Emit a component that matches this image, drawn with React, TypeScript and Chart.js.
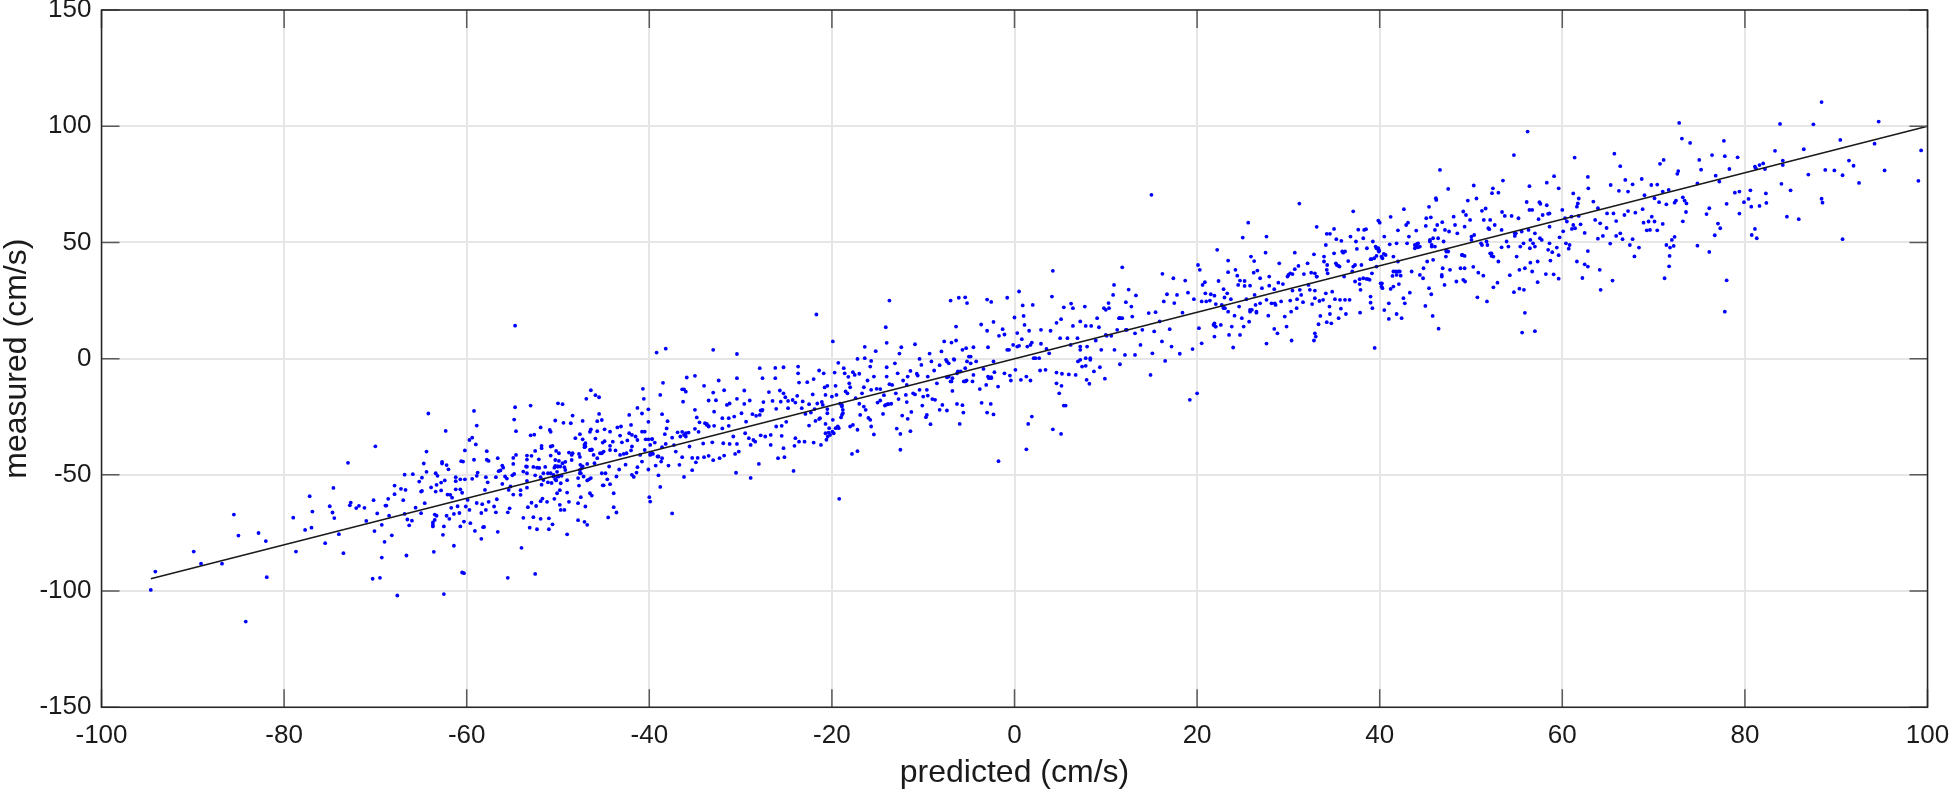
import React, { useEffect, useRef } from "react";
import { Chart, registerables } from "chart.js";

Chart.register(...registerables);

const xTicks = [-100, -80, -60, -40, -20, 0, 20, 40, 60, 80, 100];
const yTicks = [-150, -100, -50, 0, 50, 100, 150];
const fitX = [-94.6, 100];
const fitY = [-94.7, 100];

const lowPairs = [
[-94.6,-99.5],[-94.1,-91.6],[-89.9,-83],[-89.1,-88.2],[-86.8,-88.2],[-85.5,-67.1],[-85,-76.1],[-82.8,-75],[-82,-78.5],[-81.9,-94],[-84.2,-113.1],[-79,-68.4],[-78.7,-83],[-77.7,-73.7],[-77.2,-59.2],[-77,-72.7],[-76.9,-65.8],[-75.5,-79.4],[-75,-63.5],[-74.7,-66.2],[-74.6,-55.6],[-74.5,-68.6],[-74,-75.5],[-73.5,-83.7],[-73,-44.8],[-72.8,-63.1],[-72.7,-61.9],[-72.1,-64.3],[-71.8,-63.3],[-71.2,-64.2],[-71,-69.8],[-70.3,-94.7],[-69.5,-94.3],[-70.2,-60.9],[-70.1,-74.2],[-70,-37.7],[-69.8,-66.6],[-69.3,-85.6],[-69.3,-71.5],[-69,-78.8],[-68.9,-63.2],[-68.8,-63.2],[-68.6,-60.3],[-68.5,-67.6],[-68.2,-76],[-67.9,-58.3],[-67.9,-54.6],[-67.6,-101.9],[-67.2,-56],[-66.95,-60.9],[-66.8,-49.9],[-66.8,-66.8],[-66.7,-56.5],[-66.6,-84.7],[-66.5,-69.2],[-66.3,-71.7],[-66,-69.7],[-65.9,-49.7],[-65.6,-64.1],[-65.2,-52.9],[-65,-66.5],[-65,-57.2],[-64.9,-56.9],[-64.9,-51.2],[-64.7,-45.1],[-64.6,-62.2],[-64.4,-40],[-64.4,-48.7],[-64.2,-23.6],[-63.9,-55.4],[-63.7,-70.5],[-63.7,-71.5],[-63.7,-72.2],[-63.6,-83.1],[-63.5,-67.1],[-63.5,-69.4],[-63.4,-49.3],[-63.4,-57.2],[-63.3,-67.6],[-63.3,-54.3],[-63.2,-50.4],[-62.8,-53.3],[-62.8,-56.7],[-62.7,-44.4],[-62.7,-45.1],[-62.6,-75.8],[-62.5,-101.3],[-62.5,-72.2],[-62.4,-52.4],[-62.3,-31.1],[-62.2,-67.6],[-62.2,-45.8],[-62.1,-58.5],[-62,-47.6],[-61.9,-68.9],[-61.8,-58.6],[-61.7,-64.2],[-61.6,-59.8],[-61.4,-80.5],[-61.4,-66.8],[-61.2,-51],[-61.2,-52.7],[-61.2,-56.2],[-61,-63.5],[-60.8,-66.4],[-60.7,-72.2],[-60.7,-56.2],[-60.7,-51.9],[-60.6,-44.1],[-60.5,-57.7],[-60.4,-44.3],[-60.3,-70.1],[-60.3,-92.3],[-60.2,-39.5],[-60.2,-51.9],[-60.1,-63.6],[-59.9,-60.8],[-59.7,-35],[-59.7,-65.1],[-59.6,-70.8],[-59.4,-34],[-59.4,-51.7],[-59.2,-43.5],[-59.2,-22.5],[-59.1,-74.1],[-59,-36.9],[-58.9,-62.1],[-58.9,-28.8],[-58.9,-50.4],[-58.8,-49],[-58.4,-66.4],[-58.3,-62.6],[-58.2,-72.5],[-58.1,-72.4],[-58,-56.5],[-57.9,-65.1],[-57.9,-51],[-57.8,-43.5],[-57.8,-39.8],[-57.6,-44],[-57.6,-61.6],[-57.7,-53.2],[-57,-63.6],[-56.8,-51],[-56.8,-66.1],[-56.7,-60.5],[-56.6,-42.8],[-56.5,-48.4],
[-55.5,-94.3],[-52.5,-92.6],[-60.5,-92],[-54,-81.4],[-50.6,-71.3],[-47.1,-70.2],[-56.6,-74.5],[-58.4,-77.5],[-49,-75.6],[-44.5,-68.3],
];

const lowerMidPairs = [
[-56.1,-46],[-56,-46.9],[-56.3,-48.1],[-55.8,-50.7],[-55.6,-51.6],[-56.1,-53.9],[-55.2,-55],[-55.4,-56.5],[-54.9,-58.5],[-55.3,-64.4],[-55.5,-66.1],[-54.7,14.2],[-54.7,-20.9],[-54.8,-26.2],[-54.6,-31.2],[-54.6,-41.4],[-54.9,-42.7],[-54.9,-45.3],[-55,-50.2],[-54.8,-49.6],[-54.1,-56.6],[-54.1,-58.6],[-53.8,-48.6],[-53.5,-46.4],[-53.4,-46.5],[-53.4,-49.3],[-53.4,-52.6],[-53.4,-55.5],[-53.4,-41.7],[-53.4,-43.4],[-53.3,-63.9],[-53.8,-68.5],[-53.1,-72.7],[-53,-20.2],[-53,-33],[-52.9,-41.8],[-52.9,-62],[-52.7,-46.6],[-52.6,-32.7],[-52.7,-68.2],[-52.5,-39.7],[-52.5,-50.2],[-52.3,-46.9],[-52.4,-63.4],[-52.3,-73.4],[-52.05,-47],[-52.1,-43.3],[-51.9,-29.6],[-51.9,-51],[-51.8,-38.5],[-51.8,-37.5],[-51.8,-54.2],[-51.9,-61.3],[-51.9,-68.9],[-51.6,-49.3],[-51.4,-46.6],[-51.6,-52.2],[-51.7,-60.2],[-51.2,-61.6],[-51.1,-53.2],[-51.1,-49.3],[-51,-68.7],[-51,-73.4],[-50.9,-30.7],[-50.8,-31.5],[-50.8,-37.8],[-50.6,-37.5],[-50.8,-41.7],[-50.8,-49.3],[-50.7,-53.5],[-50.5,-50],[-50.4,-46.9],[-50.3,-46.1],[-50.3,-43.6],[-50.3,-26.6],[-50.2,-39.7],[-50.4,-60.3],[-50.1,-50.7],[-50.1,-48.7],[-50,-19.2],[-50,-46.4],[-50.2,-52.4],[-49.9,-44],[-49.9,-40.7],[-50.1,-57.9],[-49.8,-56.6],[-49.7,-53.6],[-49.8,-62.9],[-49.7,-65.1],[-49.5,-19.6],[-49.6,-50.4],[-49.5,-45],[-49.4,-27.6],[-49.3,-65.1],[-49.3,-46.7],[-49.2,-47.9],[-49.2,-44.4],[-49,-57.6],[-49,-52.3],[-48.8,-40.4],[-48.8,-61.6],[-48.6,-27.8],[-48.4,-24.5],[-48.5,-41.4],[-48.5,-43.6],[-48.4,-40.7],[-48.1,-34.2],[-47.8,-51.4],[-47.8,-62.2],[-47.8,-69.5],[-47.7,-41],[-47.6,-42.3],[-47.6,-32.5],[-47.6,-47.9],[-47.5,-59.6],[-47.5,-49.3],[-47.7,-54.6],[-47.3,-26.8],[-47.3,-46.4],[-47.3,-34.7],[-47.1,-37.1],[-47,-37.8],[-46.9,-17.3],[-47,-63.6],[-46.8,-71.5],[-46.8,-52.4],[-46.8,-45.3],[-46.6,-51.9],[-46.5,-31.5],[-46.4,-30.4],[-46.4,-13.6],[-46.5,-39.3],[-46.3,-39],[-46.4,-51.4],[-46.5,-57.9],[-46.3,-58.9],[-45.9,-15.7],[-45.9,-34.4],[-46.1,-41.4],[-46,-45],[-45.7,-42.8],[-45.7,-26.9],[-45.7,-31.2],[-45.5,-23.8],[-45.5,-16.6],[-45.2,-26.4],[-45.4,-40.7],[-45.2,-49.3],[-45.1,-54.5],[-45,-54.5],[-45.1,-36.1],[-44.9,-30.4],[-44.9,-35.5],[-44.8,-49.3],[-44.6,-51.9],[-44.4,-46.4],[-44.3,-31.4],[-44.3,-54],[-44.3,-39.3],[-44.3,-37.5],[-44,-35.7],[-43.9,-57.9],[-43.9,-63.9],[-43.6,-66.2],[-43.7,-39.5],[-43.6,-50.7],[-43.5,-29.6],[-43.3,-47.7],[-43.2,-33.1],[-43.1,-29.2],[-43,-36],[-43.2,-41.4],[-42.8,-41],[-42.6,-45.6],[-42.5,-40.7],[-42.4,-35.2],[-42.2,-24.2],[-42.2,-32.1],[-42,-28.5],[-42,-39.5],[-41.9,-32.8],[-41.9,-37.8],[-41.9,-50],[-41.7,-50.9],[-41.5,-33.5],[-41.3,-46.7],[-41.4,-49],[-41.3,-21.2],[-41.3,-35],[-41,-41.4],[-40.8,-31.4],[-40.8,-23.6],[-40.8,-44.3],[-40.7,-13],[-40.6,-17.3],[-40.5,-31.4],[-40.5,-39.3],[-40.4,-34.7],[-40.1,-21.8],[-40.1,-27.2],[-40,-59.6],[-39.9,-61.5],[-40.1,-47.7],[-39.9,-41.4],[-39.7,-34.5],[-39.9,-37.1],[-39.4,-36.1],[-39.6,-41],[-39.3,-46],[-39.2,2.6],[-39,-50.2],[-38.8,-55.2],[-39.1,-42.1],[-38.8,-15.6],[-38.6,-38.1],[-38.6,-23.9],[-38.5,-10.4],[-38.7,-44.3],[-38.3,-32.5],[-38.2,4.3],[-38.2,-36.7],[-38.1,-30],[-38,-26.9],[-37.9,-46],[-37.5,-66.6],[-37.5,-34],[-37.3,-37.2],[-37.1,-40],[-36.9,-31.7],[-36.7,-45.7],[-36.6,-33.5],[-36.4,-31.5],[-36.4,-13.2],[-36.3,-18.5],[-36.2,-13.2],[-36,-14.2],[-36.4,-42.4],[-36.2,-50.9],[-35.9,-8.1],[-36,-32.1],[-36,-33.5],[-35.7,-31.8],[-35.6,-37.8],[-35.3,-42.7],[-35.3,-48],[-35,-7.4],[-35,-22],[-34.8,-25.3],[-35,-30.2],[-34.7,-42.7],[-34.9,-44.6],[-34.6,-31.5],[-34.5,-27.4],[-34.1,-36.5],[-34,-11.7],[-34,-42.4],[-33.9,-27.8],[-33.7,-28.1],[-33.5,-18],[-33.5,-29.2],[-33.5,-41.8],[-33.1,-36],[-33,-14.6],[-33,3.8],[-33,-43.7],[-32.9,-28.9],[-32.9,-22.8],[-32.7,-17.9],[-32.4,-9.4],[-32.3,-42.8],[-32,-30],[-32,-25.6],[-31.9,-36.4],[-31.8,-13.6],[-31.8,-41.7],[-31.5,-19.9],[-31.3,-25.6],[-31.3,-28.9],[-31.2,-36.7],[-31.2,-19.3],[-30.8,-33.5],[-30.7,-24.9],[-30.5,-49.1],[-30.4,2],[-30.4,-8.4],[-30.4,-17.3],[-30.6,-41],[-30.4,-36.7],[-30.2,-40],[-29.9,-23.5],[-29.6,-13.7],[-29.6,-19.5],[-29.5,-32.1],[-29.4,-27.1],[-29.1,-34.2],[-29,-18],[-28.9,-51.3],[-28.9,-37.1],[-28.7,-23.9],[-28.6,-35],[-28.4,-35.7],[-28.3,-24.6],[-28,-45.3],[-27.9,-4.1],[-27.9,-24.2],[-27.8,-33],[-27.6,-8.4],[-27.6,-22],[-27.5,-18.7],[-27.3,-33.5],[-26.9,-14.4],[-26.7,-32.8],[-26.7,-37.1],[-26.5,-18.2],[-26.2,-4],[-26.2,-8.4],[-26.1,-21.6],[-26.1,-29.2],[-25.9,-42.8],[-25.6,-18.5],[-25.7,-13.7],[-25.5,-33.2],[-25.5,-28.9],[-25.3,-14.9],[-25.3,-3.7],[-25.3,-38.5],[-25.2,-42.4],[-25.1,-16.6],[-25,-27.2],[-24.8,-21.3],[-24.8,-18.2],[-24.2,-48.3],[-24.3,-17.8],[-24.1,-37.5],[-24,-34.2],[-24,-18.9],[-23.7,-3.4],[-23.7,-6.3],[-23.6,-10.3],[-23.8,-16],[-23.6,-35.7],
[-50.05,-46.4],[-49.75,-46.4],[-50.5,-50.7],[-50.3,-51.9],[-49.95,-50.7],[-47.55,-45.7],[-47.4,-47.1],[-47.6,-49.3],[-47.2,-50.7],[-46.45,-39.3],[-46.3,-39.3],[-45.2,-40.7],[-45,-40],[-47,-36.4],[-47.1,-38.1],[-40.1,-34.7],[-39.7,-34.7],[-39.7,-40.7],[-39.9,-41],[-39,-42.1],[-38.6,-42.8],[-33.7,-28.5],[-33.5,-29],[-36.2,-32.8],[-27.65,-22.3],[-27.8,-22.3],
];

const centerPairs = [
[-23.3,-21.3],[-23.2,-18.4],[-23,-35.7],[-22.9,-23.8],[-22.7,-10.1],[-22.5,-28.8],[-22.5,-19.6],[-22.3,-23.2],[-22.1,-15.4],[-22,-8.8],[-22,-36.1],[-21.9,-21.7],[-21.8,-26.8],[-21.7,19],[-21.6,-19.3],[-21.4,-5.1],[-21.4,-26],[-21.3,-25.6],[-21.2,-37.1],[-21.1,-18.6],[-21,-19.9],[-20.9,-6.3],[-20.8,-12.4],[-20.7,-15.6],[-20.7,-28.1],[-20.7,-32.1],[-20.6,-34.9],[-20.5,-21.7],[-20.5,-11.7],[-20.5,-23.5],[-20.3,-29.9],[-20.2,-32.8],[-20,-16.3],[-19.9,-26.3],[-19.9,7.4],[-19.8,-32.1],[-19.7,-6],[-19.6,-11.7],[-19.5,-15.6],[-19.4,-29.6],[-19.3,-1.8],[-19.2,-60.3],[-19.1,-19.4],[-19,-25.3],[-18.9,-19.9],[-18.8,-23.5],[-18.7,-4.1],[-18.6,-6.3],[-18.5,-14.1],[-18.3,-14.9],[-18.2,-7.8],[-18.1,-10.6],[-18,-12.3],[-18,-29.2],[-17.8,-41],[-17.7,-28.5],[-17.7,-5.8],[-17.5,-7],[-17.4,-17],[-17.2,-39.8],[-17.2,-0.1],[-17.2,-30.6],[-17,-19.4],[-17,-6.5],[-16.9,-24.2],[-16.7,-14.9],[-16.5,-20.6],[-16.4,5.1],[-16.4,0.2],[-16.5,-12.3],[-16.3,-22],[-16.1,-9.4],[-16,-25.5],[-15.8,-3.4],[-15.8,-26.3],[-15.7,-1],[-15.7,-13.4],[-15.7,-29.2],[-15.4,-7.7],[-15.4,-32.6],[-15.2,3.2],[-15.1,-13],[-15,-18.9],[-14.7,-13.1],[-14.7,-18],[-14.4,-23.8],[-14.3,-15.7],[-14.2,-20.2],[-14.1,13.5],[-14,6.8],[-14,-3.7],[-14,-7.7],[-13.9,-19.6],[-13.7,25],[-13.7,-11],[-13.5,-19.4],[-13.4,-11.3],[-13.1,-2],[-13,-14.9],[-12.9,-30.1],[-12.8,-6.3],[-12.7,-17.4],[-12.6,2.2],[-12.5,-39.2],[-12.5,-32.4],[-12.4,4.9],[-12.3,-24.5],[-12.2,-9.4],[-11.9,-15.6],[-11.8,-18.7],[-11.8,-11.3],[-11.7,-7.7],[-11.7,-25.9],[-11.4,-5.3],[-11.4,-31.2],[-11.3,-22.9],[-11.1,-14.9],[-10.9,6.2],[-10.9,-15.4],[-10.7,-6.5],[-10.6,-7.3],[-10.4,-0.1],[-10.4,-13.4],[-10.2,-2.7],[-10.1,-20.2],[-10,-16.3],[-9.7,-25.2],[-9.6,-13.4],[-9.6,-24.2],[-9.5,-15.9],[-9.5,-7.7],[-9.3,2.2],[-9.2,-28.2],[-9.1,-1.2],[-9,-17.4],[-8.8,-5.1],[-8.7,-17.7],[-8.5,-10.6],[-8.2,-2.8],[-8.2,-22],[-8,3.1],[-7.9,-19.9],[-7.7,7.4],[-7.5,-0.5],[-7.4,-8],[-7.4,-22.3],[-7.2,-2],[-7,25],[-7,-9.8],[-6.9,6.9],[-6.8,-13.9],[-6.6,-0.5],[-6.4,7.8],[-6.4,13.8],[-6.3,-19.5],[-6.2,-5.5],[-6.1,26.2],[-6,-28.1],[-5.7,3.8],[-5.7,-20],[-5.6,-23.2],[-5.4,26.4],[-5.4,-9.8],[-5.3,4.5],[-5.2,23.9],[-5,0.9],[-4.8,-2],[-4.6,-9.8],[-4.5,4.9],[-4.5,-7],[-4.2,-1.2],[-3.8,-13.1],[-3.65,14.7],[-3.6,-19],[-3.4,-4.4],[-3.1,-11.3],[-3,-23.2],[-3,12],[-2.9,4.9],[-3,25.4],[-2.9,-7.7],[-2.6,-19.5],[-2.55,24.4],[-2.55,-8.4],[-2.3,-1.2],[-2.3,-24],[-2.3,15.8],[-2.2,-5.8],[-1.8,-12],[-1.75,-44.1],[-1.7,9.8],[-1.3,12.7],[-1.1,10.4],[-1.1,-6.3],[-0.8,26.2],[-0.8,3.8],[-0.5,-7.3],[-0.4,-9.4],[-0.15,5.9],[0,17.7],[0.1,-4.8],[0.3,11],[0.5,28.9],[0.5,5.5],[0.7,-9.1],[0.8,8.4],[0.9,22.9],[1,18.4],[1.1,14.5],[1.3,-7.7],[1.3,-39],[1.5,-28.1],[1.6,12],[1.75,-9.4],[1.9,-24.9],[1.9,6.9],[2,23.1],[2.3,0.2],[2.8,-5.1],[2.9,6.4],[2.9,12.4],[3.4,-4.8],[3.5,4.2],[3.8,2.3],[3.95,12],[4.1,26.7],[4.2,-30.4],[4.2,37.8],[4.6,15.4],[4.6,-6],[4.6,-10.6],[4.9,-14.9],[5,8.8],[5.1,17],[5.1,-32.4],[5.15,-11.7],[5.2,-6.5],[5.4,22.1],[5.4,-20.2],[5.6,-20.2],[5.8,8.8],[5.95,-6.8],[6.2,23.7],[6.4,21.7],[6.4,14.1],[6.7,-7],[6.9,8.8],[6.95,-1.2],[7.2,16],[7.2,5.2],[7.4,-3.4],[7.7,22.4],[7.8,14.1],[7.8,-3.1],[7.9,-9.1],[8.2,-10.8],[8.3,0.2],[8.4,14.1],[8.7,-5.5],[8.9,7.8],[9.05,17.4],[9.25,13.5],[9.35,-3.7],[9.5,3.8],[9.9,-8.6],[9.8,21.7],[10.1,9.8],[10.3,23.9],[10.6,9.8],[10.8,27.4],[10.9,31.7],[10.95,3.8],[11.25,12.4],[11.5,17.4],[11.55,-2.4],[11.8,39.3],[11.8,17.4],[12.1,1.6],[12.2,24.3],[12.3,12.4],[12.5,29.7],[12.8,22.4],[12.9,18.1],[13.2,1.6],[13.2,10.9],[13.3,27.2],[13.8,5.9],[14,12.4],[14.7,19.6],[14.9,-7],[15.1,2.3],[15.3,11.7],[15.45,20],[15.9,16],[16.2,36.5],[16.15,7.4],[16.35,24.6],[16.5,-1],[16.7,27.7],[17,12.7],[17.2,5.2],[17.4,34.6],[17.5,23.9],[17.8,27.4],[18.1,2.1],[18.4,19.8],[18.7,33.6],[19,28.4],[19.2,-17.7],[19.5,4.1],[19.65,25.6],[20,-14.9],[20.1,40.3],[20.2,13.1],
[-20.35,-31.8],[-19.95,-31.4],[-19.6,-29.9],[-19.25,-29.9],[-20.45,-33.5],[-19.35,-29.2],[-18.9,-20.6],[-18.8,-22],[-18.9,-24.2],[-14.1,-19.9],[-13.8,-19.6],[-7.2,-7.7],[-6.8,-8.4],[-6.9,-9.8],[-6.3,-6.3],[-5.9,-5.5],[-5.4,-4.1],[-5.55,-9.8],[-5.25,-9.4],[-7.4,-1.2],[-6.65,-0.2],[-5.2,-1.2],[-4.8,0.9],[-2.8,-8.4],[-2.55,-8],[-0.6,3.8],[0.3,5.2],[1.4,5.2],[1.75,5.9],[2.1,0.2],[2.7,0.2],[6.15,5.9],[7.2,3.8],[7.95,5.2],[7.2,-0.5],[7.8,0.2],[8.3,-0.5],[10,10.2],[11.6,17.4],[12.2,12.4],[10,21],[10.35,21.7],[11.45,17.4],
];

const upperMidPairs = [
[20.3,38.2],[20.5,6.6],[20.6,31.7],[20.85,32.9],[20.5,24.6],[20.9,28.1],[21,24.6],[21.4,25],[21.5,27.7],[21.9,27.1],[21.9,15.2],[22,13.8],[21.9,9.5],[22.05,23.5],[22.2,46.8],[22.35,33.4],[22.6,14.5],[22.9,29.9],[22.9,21.7],[23,26.3],[23.4,42.2],[23.4,37.2],[23.3,28.1],[23.4,20.2],[23.5,10.2],[23.7,25.6],[23.8,13.8],[23.95,4.8],[24.1,18.5],[24.2,38.2],[24.4,35.7],[24.5,31.7],[24.6,22.4],[24.7,33.6],[24.7,10.2],[24.9,17.4],[25,52.1],[25.1,13.8],[25.2,33.4],[25.2,31.3],[25.4,25.6],[25.6,58.5],[25.7,15.9],[25.8,31.4],[25.8,21],[25.9,43.9],[26.25,42],[26.2,37],[26.3,27.4],[26.4,23.1],[26.5,19.8],[26.6,37.9],[26.9,34.6],[27.1,30.3],[26.9,23.8],[27.6,52.5],[27.5,45.6],[27.6,25.3],[27.6,6.5],[27.8,18.5],[27.9,35.3],[27.9,31.4],[28.45,29.9],[28.45,12.8],[28.5,23.8],[28.8,10.9],[28.9,32.7],[29,41],[29.2,24.6],[29.4,32.1],[29.6,18.1],[29.8,13.8],[29.9,35.3],[30.2,25],[30.35,7.8],[30.45,29.3],[30.3,20.2],[30.7,45.6],[30.7,38.5],[30.9,21.7],[30.95,25.6],[31.1,39.9],[31.2,66.7],[31.25,29.6],[31.4,27.4],[31.6,24.3],[31.7,36.4],[32.1,41],[32.2,31.7],[32.35,29.6],[32.5,37],[32.6,23.5],[32.8,44.9],[32.9,29.3],[32.9,10.9],[32.8,7.8],[33,9.5],[33.1,56.7],[33.1,35.3],[32.9,26],[33.3,14.8],[33.4,24.8],[33.5,18.4],[33.9,43.9],[33.8,25.3],[34.1,48.9],[34.2,53.7],[34.25,40.3],[34.1,28.1],[34.2,15.7],[34.55,53.7],[34.3,36.7],[34.5,22.4],[34.55,19.2],[34.7,15.2],[34.8,28.8],[35,55.8],[35,45.3],[35.1,25.6],[35.2,41],[35.25,51.4],[35.5,39.9],[35.5,17.4],[35.65,25.3],[35.8,50.7],[35.9,46.1],[35.75,21.5],[36.1,35.3],[36.2,25.3],[36.3,19.2],[36.55,42],[36.7,25.3],[36.8,52.5],[37,37.5],[37.1,63.4],[37.4,50.4],[37.3,33.2],[37.5,47.2],[37.65,55.5],[37.8,32.1],[37.9,29.6],[37.85,19.8],[38,40.3],[38.2,51.8],[38.2,34.6],[38.3,55.4],[38.5,55.7],[38.6,47.5],[38.75,34.2],[39,42.8],[39,26.7],[39,24.1],[39.15,36.7],[39.25,50.4],[39.2,21.7],[39.45,4.6],[39.55,48.2],[39.65,39.6],[39.85,59.4],[40,58.5],[39.85,46.8],[39.9,46.1],[40.1,32.4],[40.3,30.3],[40.3,43.2],[40.5,52.5],[40.5,20.9],[40.65,44.6],[41,23.8],[41,17.1],[41.1,49.2],[41.2,61],[41.2,30],[41.5,43.9],[41.5,37.5],[41.85,49.6],[41.85,19.2],[42,55.2],[42.1,32.1],[42,41.8],[42.4,17.4],[42.6,26],[42.65,64.3],[42.75,23.8],[42.9,57.5],[43.1,58.5],[43.2,52.5],[43.3,28.4],[43.5,37.5],[43.85,47.5],[44,55.1],[44.1,49.4],[44.4,36],[44.75,34.6],[44.8,38.9],[45.05,57.1],[45,22.7],[45.1,60.4],[45.2,41.8],[45.4,65.3],[45.4,30.3],[45.5,51.1],[45.6,60.8],[45.65,27.7],[45.7,48.2],[45.8,18.4],[45.85,42.5],[46.15,69],[46.05,55.4],[46.2,68.3],[46.3,57.5],[46.45,12.9],[46.6,81.2],[46.8,35.3],[46.85,58.7],[47,50.4],[47.15,55.4],[47.1,31.7],[47.3,46.1],[47.5,73],[47.6,54.7],[47.7,38.2],[48.1,61.1],[48.25,57.5],[48.4,33.2],[48.5,53.9],[48.85,38.9],[49.05,44.6],[49.15,63.3],[49.3,56.8],[49.3,38.9],[49.45,61.8],[49.65,68],[49.9,59.7],[50.25,39.5],[50.3,74.5],[50.35,53.2],[50.6,68.9],[50.7,26.4],[50.8,37],[51.1,49.6],[51.2,63.6],[51.35,35.7],[51.4,59.7],[51.6,64.6],[51.75,24.6],[51.9,56.1],[52.1,59.7],[52.25,45.3],[52.3,71.2],[52.4,73.3],[52.45,30.7],[52.6,57.5],[52.9,32.7],[53,71.4],[53,41.8],[53.35,55.4],[53.5,76.6],[53.4,63.1],[53.7,61.4],[53.9,50.4],[54.25,35.9],[54.45,61.4],[54.7,28.6],[54.7,87.6],[54.8,53.9],[55,43.9],[55.2,60.4],[55.3,30.1],[55.3,38.2],[55.6,11.2],[55.75,49.6],[55.8,29.6],[55.9,19.7],[55.9,38.9],[56.1,67.4],[56.2,97.7],[56.3,55.4],[56.4,64],[56.4,74.2],[56.5,51.1],[56.5,41.3],[56.7,64],[56.7,37.5],[57,11.8],[57,53.9],[57.3,32.9],[57.3,41.8],[57.4,60],[57.5,67.3],[57.6,66.6],[57.75,51.1],[57.85,61.8],[58.2,36.4],[58.3,66],[58.3,75.7],[58.45,46.8],[58.45,62.3],
[39.65,47.5],[39.85,47.5],[39.95,46.5],[39.1,42.8],[39.4,43.2],[39.65,44.2],[40.2,43.9],[40.45,45.1],[41.75,37.5],[42.05,37.5],[41.85,36],[42.2,37.5],[42.3,35.7],[41.4,35.6],[41.5,31],[40.25,32.4],[40.2,31],[43.85,48.9],[44.4,48.2],[44.2,49.6],[45.5,50.4],[45.7,48.9],[46.05,48.2],[45.85,51.8],[46.4,51.8],[46.9,38.9],[46.8,36],[47.3,46.5],[47.5,46.1],[47.25,43.9],[49,44.6],[49.3,44.2],[49.15,33.9],[49.35,33.2],[51.2,48.9],[52.1,45.3],[52.25,44.2],[52.45,43.9],[52,55.7],[54.9,53.9],[54.8,52.8],[55.55,54.7],[56.8,49.6],[57.55,51.8],[57,48.2],[21.8,14.5],[22.05,13.8],[22.85,22.4],[22.7,23.1],[23.05,21.7],[25.8,20.2],[26,21],[26.5,20.2],[28.15,23.8],[28.6,23.1],[30,36],[30.2,36.7],[30.45,36.4],[32.9,36.7],[33.1,35.3],[34.2,38.2],[33.9,41.8],[35.3,40.3],[35.6,39.6],[36,45.6],[36.2,46.1],[37.3,40.3],[37.1,39.6],[37.8,34.2],[38.55,34.3],[38.9,33.9],[43,49.6],[44.05,48.2],[44.2,47.9],[50.05,52.5],[50.05,51.1],[51.7,50.4],[51.8,48.9],[53.35,47.9],[54.1,48.2],[55.4,48.2],[56.45,47.5],
];

const highPairs = [
[58.6,62.5],[58.6,56.8],[58.6,49.6],[58.7,42.2],[59.05,36.3],[59.1,78.5],[58.9,45.8],[59.4,47.8],[59.6,73.3],[59.6,44.5],[59.6,34.4],[59.7,52.2],[60,64],[60.1,54.8],[60.3,60.4],[60.4,49.6],[60.5,59],[60.7,47.3],[60.8,48.9],[61,61.1],[61.05,55.8],[61.2,71.1],[61.2,57.5],[61.35,86.5],[61.4,56.1],[61.6,41.8],[61.6,65.4],[61.7,66.8],[61.8,68.9],[61.8,61.4],[62,57.8],[62.2,34.7],[62.45,54.1],[62.45,40.6],[62.8,46.3],[62.8,78.2],[62.85,73.3],[62.8,39.6],[63.4,67.6],[63.6,59.7],[63.9,51.6],[63.9,64.7],[64.1,38.2],[64.15,58.2],[64.2,29.6],[64.45,52.8],[64.85,56.2],[64.9,62.5],[65.25,49.5],[65.3,74.7],[65.5,33.6],[65.6,62.5],[65.7,88.2],[65.9,59.2],[65.9,52.8],[66.2,72.2],[66.35,82.8],[66.35,53.9],[66.6,51.4],[66.8,61.8],[66.9,76.9],[67.2,71.9],[67.2,63.5],[67.4,48.9],[67.7,75],[67.7,51.4],[67.9,44],[68,62.8],[68.4,47.8],[68.7,77.3],[68.8,64.3],[68.9,58.5],[69,70.3],[69.25,55.2],[69.45,59],[69.6,55.4],[69.75,74.7],[69.8,61.1],[70.1,69],[70.1,59],[70.4,74.9],[70.4,55.2],[70.6,67.3],[70.7,83.8],[71,57.95],[71,71.9],[71.1,85.5],[71.2,34.6],[71.4,48.9],[71.4,66.4],[71.65,72.6],[71.7,39.7],[71.75,44.2],[71.8,47.8],[72,51.1],[72.2,48.5],[72.3,52.4],[72.3,67.1],[72.45,68],[72.6,79.5],[72.7,80.7],[72.8,101.4],[73.1,94.7],[73.2,69.4],[73.2,59.1],[73.4,68],[73.55,63.1],[73.6,66.8],[74,92.8],[74.8,48.6],[74.8,75.4],[75,85.5],[75.2,81.3],[75.8,62.2],[76.1,64.7],[76.1,45.9],[76.4,87.6],[76.7,53.1],[76.8,78.7],[77.05,58.1],[77.2,76.2],[77.3,56.1],[77.7,93.7],[77.8,87.1],[77.8,20.2],[78,66.6],[78,33.7],[78.3,81.6],[78.9,71.4],[79.2,86.6],[79.4,71.9],[79.4,62.4],[79.9,67.3],[80.4,68.7],[80.6,72.4],[80.7,65.4],[80.75,53.2],[81.1,55.8],[81.1,82.6],[81.2,81.9],[81.3,51.8],[81.6,65.7],[81.6,83.3],[82,84],[82.2,81.6],[82.3,71.1],[82.35,67],[83.3,89.4],[83.85,101],[84,75.2],[84.15,85.2],[84.15,83.3],[84.6,61.1],[85,72.4],[85.9,60],[86.45,90.1],[86.95,79.2],[87.5,100.8],[88.4,110.4],[88.4,68.8],[88.5,67.1],[88.8,81.2],[89.8,81],[90.45,94.1],[90.7,78.9],[90.7,51.4],[91.4,85.2],[91.9,83],[92.5,75.6],[94.2,92.5],[94.65,102],[95.3,81],[99,76.5],[99.3,89.6],
[15,70.5],
];

const samples = [...lowPairs, ...lowerMidPairs, ...centerPairs, ...upperMidPairs, ...highPairs];

const insideTicks = {
  id: "insideTicks",
  afterDatasetsDraw(chart: any) {
    const { ctx, chartArea: a, scales } = chart;
    const len = 18;
    ctx.save();
    ctx.strokeStyle = "#5a5a5a";
    ctx.lineWidth = 1.5;
    ctx.beginPath();
    for (const v of xTicks) {
      const p = scales.x.getPixelForValue(v);
      ctx.moveTo(p, a.top); ctx.lineTo(p, a.top + len);
      ctx.moveTo(p, a.bottom); ctx.lineTo(p, a.bottom - len);
    }
    for (const v of yTicks) {
      const p = scales.y.getPixelForValue(v);
      ctx.moveTo(a.left, p); ctx.lineTo(a.left + len, p);
      ctx.moveTo(a.right, p); ctx.lineTo(a.right - len, p);
    }
    ctx.stroke();
    ctx.strokeStyle = "#262626";
    ctx.lineWidth = 1.5;
    ctx.strokeRect(a.left, a.top, a.right - a.left, a.bottom - a.top);
    ctx.restore();
  },
};

export default function App() {
  const ref = useRef<HTMLCanvasElement>(null);
  useEffect(() => {
    document.body.style.margin = "0";
    const font = "'Liberation Sans', Arial, sans-serif";
    const chart = new Chart(ref.current!, {
      type: "scatter",
      data: {
        datasets: [
          {
            type: "line",
            data: fitX.map((x, i) => ({ x, y: fitY[i] })),
            borderColor: "#1a1a1a",
            borderWidth: 1.6,
            pointRadius: 0,
            order: 0,
          },
          {
            data: samples.map(([x, y]) => ({ x, y })),
            backgroundColor: "#0000ff",
            borderWidth: 0,
            pointRadius: 1.9,
            order: 1,
          },
        ],
      } as any,
      options: {
        animation: false,
        responsive: false,
        layout: { padding: { top: 10, right: 21.5, left: 0, bottom: 0 } },
        plugins: { legend: { display: false }, tooltip: { enabled: false } },
        scales: {
          x: {
            type: "linear",
            min: -100,
            max: 100,
            afterBuildTicks: (s: any) => { s.ticks = xTicks.map((value) => ({ value })); },
            afterFit: (s: any) => { s.height = 85.7; s.paddingRight = 0; s.paddingLeft = 0; },
            grid: { color: "#e6e6e6", lineWidth: 2, drawTicks: false },
            border: { display: false },
            ticks: { font: { family: font, size: 26 }, color: "#1a1a1a", padding: 13, maxRotation: 0, autoSkip: false },
            title: { display: true, text: "predicted (cm/s)", font: { family: font, size: 32, lineHeight: 1 }, color: "#1a1a1a", padding: { top: 0, bottom: 4 } },
          },
          y: {
            type: "linear",
            min: -150,
            max: 150,
            afterBuildTicks: (s: any) => { s.ticks = yTicks.map((value) => ({ value })); },
            afterFit: (s: any) => { s.width = 101.5; s.paddingTop = 0; s.paddingBottom = 0; },
            grid: { color: "#e6e6e6", lineWidth: 2, drawTicks: false },
            border: { display: false },
            ticks: { font: { family: font, size: 26 }, color: "#1a1a1a", padding: 10, autoSkip: false },
            title: { display: true, text: "measured (cm/s)", font: { family: font, size: 32, lineHeight: 1 }, color: "#1a1a1a", padding: { top: 1.5, bottom: 0 } },
          },
        },
      } as any,
      plugins: [insideTicks],
    } as any);
    return () => chart.destroy();
  }, []);
  return <canvas ref={ref} width={1949} height={793} style={{ display: "block" }} />;
}
